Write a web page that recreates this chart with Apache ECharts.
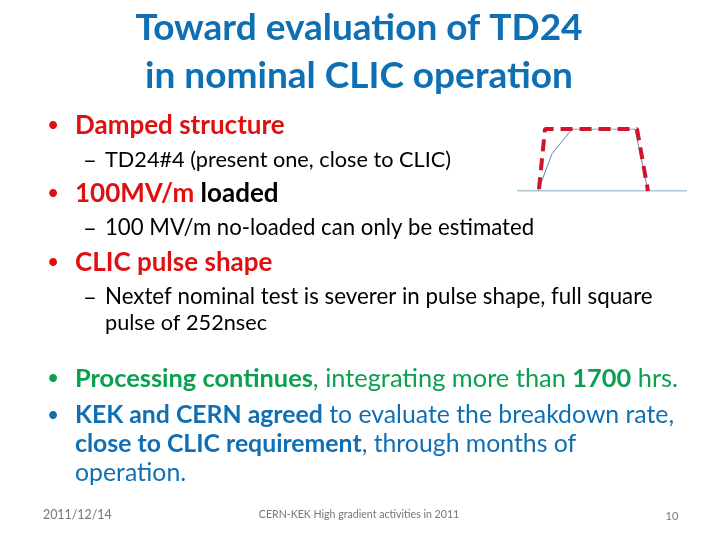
<!DOCTYPE html>
<html lang="en">
<head>
    <meta charset="UTF-8">
    <title>Toward evaluation of TD24</title>
    <script src="https://cdn.jsdelivr.net/npm/echarts@6/dist/echarts.min.js"></script>
    <style>
        html, body { margin: 0; padding: 0; background: #fff; }
    </style>
</head>
<body>
<div id="main" style="width:720px;height:540px;"></div>
<script type="text/javascript">
    // pulse shape, x = time in ns, y = relative gradient
    var baseline = [[-21, 0], [149, 0]];
    var measuredPulse = [[0, 0], [14, 0.6], [34, 1], [97, 1], [110, 0]];
    var clicPulse = [[1, 0.03], [7, 1], [99, 1], [110, 0]];

    var titleLines = ['Toward evaluation of TD24', 'in nominal CLIC operation'];
    var footerDate = '2011/12/14';
    var footerText = 'CERN-KEK High gradient activities in 2011';
    var footerPage = '10';

    var RED = '#e01010', BLUE = '#0f6fb5', GREEN = '#0ba04f', BLACK = '#000';
    var FONT = 'Lato, "Open Sans", sans-serif';

    function textEl(x, y, str, size, color, bold, align) {
        return {
            type: 'text', x: x, y: y, silent: true,
            style: {
                text: str, fill: color, fontFamily: FONT, fontSize: size,
                fontWeight: bold ? 'bold' : 'normal',
                align: align || 'left', verticalAlign: 'middle'
            }
        };
    }

    // coloured runs on a single line
    function richEl(x, y, parts, size) {
        var rich = {}, str = '';
        parts.forEach(function (p, i) {
            rich['p' + i] = {
                fill: p[1], fontFamily: FONT, fontSize: size,
                fontWeight: p[2] ? 'bold' : 'normal'
            };
            str += '{p' + i + '|' + p[0] + '}';
        });
        return {
            type: 'text', x: x, y: y, silent: true,
            style: { text: str, rich: rich, verticalAlign: 'middle' }
        };
    }

    function bullet(y, color) {
        return textEl(47, y, '•', 21, color, false);
    }
    function dash(y) {
        return textEl(83, y, '–', 24, BLACK);
    }

    var texts = [
        textEl(359, 28, titleLines[0], 37, BLUE, true, 'center'),
        textEl(359, 76, titleLines[1], 37, BLUE, true, 'center'),

        bullet(125, RED),
        textEl(75, 126, 'Damped structure', 26, RED, true),
        dash(160),
        textEl(105, 160, 'TD24#4 (present one, close to CLIC)', 21.7, BLACK),

        bullet(193, RED),
        richEl(75, 194, [['100MV/m ', RED, true], ['loaded', BLACK, true]], 26),
        dash(228),
        textEl(105, 228, '100 MV/m no-loaded can only be estimated', 22.2, BLACK),

        bullet(262, RED),
        textEl(75, 263, 'CLIC pulse shape', 26, RED, true),
        dash(297),
        textEl(105, 297, 'Nextef nominal test is severer in pulse shape, full square', 22.3, BLACK),
        textEl(105, 323, 'pulse of 252nsec', 21.7, BLACK),

        bullet(378, GREEN),
        richEl(75, 379, [['Processing continues', GREEN, true], [', integrating more than ', GREEN, false], ['1700', GREEN, true], [' hrs.', GREEN, false]], 25.4),

        bullet(415, BLUE),
        richEl(75, 415, [['KEK and CERN agreed', BLUE, true], [' to evaluate the breakdown rate,', BLUE, false]], 24.8),
        richEl(75, 444, [['close to CLIC requirement', BLUE, true], [', through months of', BLUE, false]], 24.8),
        textEl(75, 473, 'operation.', 24.8, BLUE),

        textEl(43, 515, footerDate, 12.4, '#777'),
        textEl(359, 515, footerText, 10.6, '#777', false, 'center'),
        textEl(672, 516, footerPage, 11, '#777', false, 'center')
    ];

    var myChart = echarts.init(document.getElementById('main'));
    myChart.setOption({
        animation: false,
        backgroundColor: '#fff',
        // plot box sits over the little pulse sketch at upper right
        grid: { left: 517, top: 129, width: 170, height: 62 },
        xAxis: { type: 'value', min: -21, max: 149, show: false },
        yAxis: { type: 'value', min: 0, max: 1, show: false },
        series: [
            {
                type: 'line', data: baseline, symbol: 'none', silent: true,
                lineStyle: { color: '#5b8fa8', width: 1 }
            },
            {
                type: 'line', data: measuredPulse, symbol: 'none', silent: true,
                lineStyle: { color: '#5b8fa8', width: 1 }
            },
            {
                type: 'line', data: clicPulse, symbol: 'none', silent: true,
                lineStyle: { color: '#d0142c', width: 4, type: [12, 7] }
            }
        ],
        graphic: { elements: texts }
    });
</script>
</body>
</html>
